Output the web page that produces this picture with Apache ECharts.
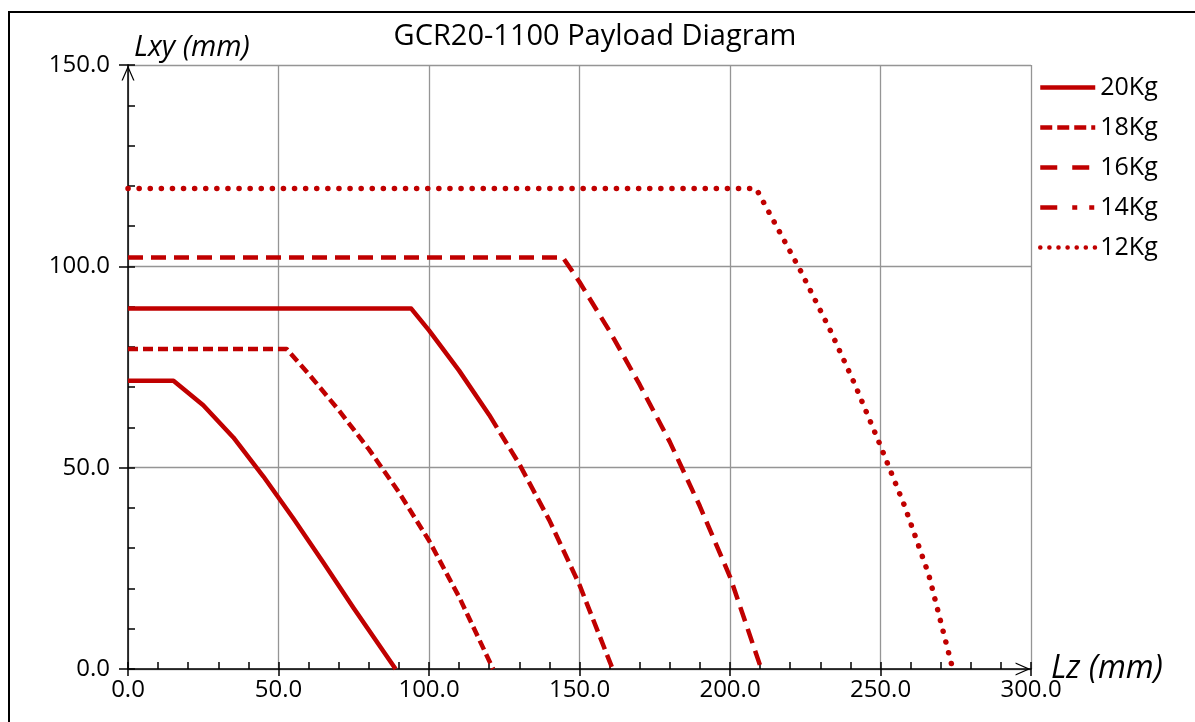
<!DOCTYPE html>
<html>
<head>
<meta charset="utf-8">
<script src="https://cdn.jsdelivr.net/npm/echarts@6/dist/echarts.min.js"></script>
<style>
html,body{margin:0;padding:0;background:#fff;}
#chart{width:1195px;height:722px;}
</style>
</head>
<body>
<div id="chart"></div>
<script>
// ---- data ----
const chartTitle = 'GCR20-1100 Payload Diagram';
const seriesNames = ['20Kg', '18Kg', '16Kg', '14Kg', '12Kg'];
const xTicks = [0, 50, 100, 150, 200, 250, 300];
const yTicks = [0, 50, 100, 150];

const lz20  = [0, 15.1, 25, 35, 45, 55, 65, 75, 88.9];
const lxy20 = [71.6, 71.6, 65.5, 57.5, 47.8, 37.3, 26.3, 15.1, 0];

const lz18  = [0, 52.7, 60, 70, 80, 90, 100, 110, 121.3];
const lxy18 = [79.5, 79.5, 73.3, 64.3, 54.6, 43.9, 31.9, 17.9, 0];

const lz16  = [0, 94.1, 100, 110, 120, 130, 140, 150, 161];
const lxy16 = [89.5, 89.5, 84.1, 74.1, 63.1, 50.9, 36.9, 20.9, 0];

const lz14  = [0, 144.5, 150, 160, 170, 180, 190, 200, 210.4];
const lxy14 = [102.2, 102.2, 96.1, 83.9, 70.6, 56.4, 40.4, 22.9, 0];

const lz12  = [0, 208.7, 223.3, 233.2, 241.3, 249.4, 258, 266, 274];
const lxy12 = [119.3, 119.3, 99.1, 84.3, 71.0, 56.5, 40.5, 23.5, 0];

// ---- build ----
const zip = (a, b) => a.map((v, i) => [v, b[i]]);
const RED = '#C00000';
const FONT = "'Open Sans', 'Noto Sans', sans-serif";
const arrow = 'path://M0,16 L7,0 L14,16 L12.6,16 L7,3.2 L1.4,16 Z';

const dash16 = [430];
for (let i = 0; i < 30; i++) { dash16.push(6, 13); }
dash16.push(6);

const styles = [
  { type: 'solid', width: 4.5 },
  { type: [10, 5], width: 4.5 },
  { type: dash16, width: 4.5 },
  { type: [15, 8], width: 4.5 },
  { type: [0.1, 11], width: 5.5, cap: 'round' }
];
const legendStyles = [
  { type: 'solid' },
  { type: [12, 5] },
  { type: [17, 15, 17, 100] },
  { type: [17, 15, 5, 12, 5, 100] },
  { type: [0.1, 9], cap: 'round' }
];
const dataSets = [zip(lz20, lxy20), zip(lz18, lxy18), zip(lz16, lxy16), zip(lz14, lxy14), zip(lz12, lxy12)];

const axisBlack = { color: '#000', width: 1.5 };
const labelStyle = { fontFamily: FONT, fontSize: 24, color: '#000' };

const chart = echarts.init(document.getElementById('chart'), null, { renderer: 'canvas' });
chart.setOption({
  animation: false,
  backgroundColor: '#fff',
  title: {
    text: chartTitle,
    left: 590, top: 17, textAlign: 'center',
    textStyle: { fontFamily: FONT, fontSize: 29, fontWeight: 'normal', color: '#000' }
  },
  graphic: [{
    type: 'rect', silent: true,
    shape: { x: 9, y: 12, width: 1400, height: 900 },
    style: { fill: 'none', stroke: '#000', lineWidth: 2 }
  }],
  legend: {
    orient: 'vertical', left: 1038, top: 75, padding: 0,
    itemWidth: 55, itemHeight: 20, itemGap: 15, selectedMode: false,
    textStyle: { fontFamily: FONT, fontSize: 25, color: '#000' },
    data: seriesNames.map((n, i) => ({
      name: n,
      itemStyle: { opacity: 0 },
      lineStyle: Object.assign({ color: RED, width: 4.5 }, legendStyles[i])
    }))
  },
  grid: { left: 128, right: 164, top: 65, bottom: 53, containLabel: false },
  xAxis: [{
    type: 'value', min: 0, max: 300, interval: 50, position: 'bottom',
    name: 'Lz (mm)', nameLocation: 'end', nameGap: 20, nameMoveOverlap: false,
    nameTextStyle: { fontFamily: FONT, fontSize: 32, fontStyle: 'italic', color: '#000', verticalAlign: 'middle', align: 'left' },
    axisLine: { show: true, onZero: false, lineStyle: axisBlack, symbol: ['none', arrow], symbolSize: [13, 16], symbolOffset: [0, -8] },
    axisTick: { show: true, inside: false, length: 7, lineStyle: axisBlack },
    axisLabel: Object.assign({ margin: 9, formatter: v => xTicks.includes(v) ? v.toFixed(1) : '' }, labelStyle),
    splitLine: { show: true, lineStyle: { color: '#959595', width: 1.3 } }
  }, {
    type: 'value', min: 0, max: 300, interval: 50, position: 'bottom',
    axisLine: { show: false, onZero: false },
    axisTick: { show: true, inside: true, length: 7, lineStyle: axisBlack },
    minorTick: { show: true, splitNumber: 5, length: 7, lineStyle: axisBlack },
    axisLabel: { show: false }, splitLine: { show: false }
  }],
  yAxis: [{
    type: 'value', min: 0, max: 150, interval: 50, position: 'left',
    name: 'Lxy (mm)', nameLocation: 'end', nameGap: 17, nameMoveOverlap: false,
    nameTextStyle: { fontFamily: FONT, fontSize: 29, fontStyle: 'italic', color: '#000', align: 'left', verticalAlign: 'middle', padding: [0, 0, 0, 6] },
    axisLine: { show: true, onZero: false, lineStyle: axisBlack, symbol: ['none', arrow], symbolSize: [13, 16], symbolOffset: [0, -8] },
    axisTick: { show: true, inside: false, length: 9, lineStyle: axisBlack },
    axisLabel: Object.assign({ margin: 18, formatter: v => yTicks.includes(v) ? v.toFixed(1) : '' }, labelStyle),
    splitLine: { show: true, lineStyle: { color: '#959595', width: 1.3 } }
  }, {
    type: 'value', min: 0, max: 150, interval: 50, position: 'left',
    axisLine: { show: false, onZero: false },
    axisTick: { show: true, inside: true, length: 7, lineStyle: axisBlack },
    minorTick: { show: true, splitNumber: 5, length: 7, lineStyle: axisBlack },
    axisLabel: { show: false }, splitLine: { show: false }
  }],
  series: seriesNames.map((n, i) => ({
    name: n, type: 'line', xAxisIndex: 0, yAxisIndex: 0,
    data: dataSets[i], showSymbol: false, symbol: 'none', smooth: false,
    lineStyle: Object.assign({ color: RED, join: 'round' }, styles[i]),
    itemStyle: { color: RED },
    z: 3
  }))
});
</script>
</body>
</html>
